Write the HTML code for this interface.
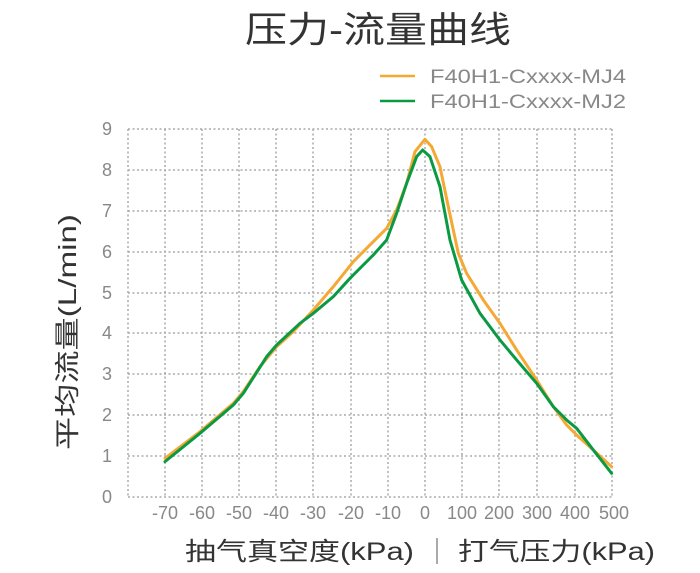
<!DOCTYPE html>
<html><head><meta charset="utf-8"><style>
html,body{margin:0;padding:0;background:#fff;}
svg{display:block;font-family:"Liberation Sans","Noto Sans CJK SC",sans-serif;}
</style></head><body>
<svg width="700" height="573" viewBox="0 0 700 573" xmlns="http://www.w3.org/2000/svg">
<text x="378" y="42" font-size="36" fill="#333" text-anchor="middle" textLength="266" lengthAdjust="spacingAndGlyphs">压力-流量曲线</text>
<line x1="380" y1="76" x2="415" y2="76" stroke="#f5a833" stroke-width="2.5"/>
<line x1="380" y1="101" x2="415" y2="101" stroke="#0a9a44" stroke-width="2.5"/>
<text x="430" y="83" font-size="19" fill="#888" textLength="196" lengthAdjust="spacingAndGlyphs">F40H1-Cxxxx-MJ4</text>
<text x="430" y="108" font-size="19" fill="#888" textLength="196" lengthAdjust="spacingAndGlyphs">F40H1-Cxxxx-MJ2</text>
<g stroke="#aaa" stroke-width="1.5" stroke-dasharray="2,2.5" fill="none">
<line x1="128" y1="129" x2="612" y2="129"/><line x1="128" y1="170" x2="612" y2="170"/>
<line x1="128" y1="211" x2="612" y2="211"/><line x1="128" y1="252" x2="612" y2="252"/>
<line x1="128" y1="293" x2="612" y2="293"/><line x1="128" y1="333" x2="612" y2="333"/>
<line x1="128" y1="374" x2="612" y2="374"/><line x1="128" y1="415" x2="612" y2="415"/>
<line x1="128" y1="456" x2="612" y2="456"/><line x1="128" y1="497" x2="612" y2="497"/>
<line x1="128" y1="129" x2="128" y2="497"/><line x1="165" y1="129" x2="165" y2="497"/>
<line x1="202" y1="129" x2="202" y2="497"/><line x1="239" y1="129" x2="239" y2="497"/>
<line x1="276" y1="129" x2="276" y2="497"/><line x1="313" y1="129" x2="313" y2="497"/>
<line x1="351" y1="129" x2="351" y2="497"/><line x1="388" y1="129" x2="388" y2="497"/>
<line x1="425" y1="129" x2="425" y2="497"/><line x1="462" y1="129" x2="462" y2="497"/>
<line x1="499" y1="129" x2="499" y2="497"/><line x1="537" y1="129" x2="537" y2="497"/>
<line x1="575" y1="129" x2="575" y2="497"/><line x1="612" y1="129" x2="612" y2="497"/>
</g>
<g font-size="18" fill="#888" text-anchor="end">
<text x="112" y="135">9</text><text x="112" y="176">8</text><text x="112" y="217">7</text>
<text x="112" y="258">6</text><text x="112" y="299">5</text><text x="112" y="339">4</text>
<text x="112" y="380">3</text><text x="112" y="421">2</text><text x="112" y="462">1</text>
<text x="112" y="503">0</text>
</g>
<g font-size="18" fill="#888" text-anchor="middle">
<text x="165" y="519">-70</text><text x="202" y="519">-60</text><text x="239" y="519">-50</text>
<text x="276" y="519">-40</text><text x="313" y="519">-30</text><text x="351" y="519">-20</text>
<text x="388" y="519">-10</text><text x="425" y="519">0</text><text x="462" y="519">100</text>
<text x="499" y="519">200</text><text x="537" y="519">300</text><text x="575" y="519">400</text>
<text x="614" y="519">500</text>
</g>
<g transform="translate(100,110) scale(0.3333)" fill="none" stroke-width="9" stroke-linejoin="round" stroke-linecap="round">
<polyline stroke="#f5a833" points="195,1045 300,965 400,880 430,845 480,770 530,710 580,665 640,600 700,530 760,455 810,405 860,355 890,300 920,220 945,125 975,88 995,110 1020,170 1045,290 1075,430 1100,490 1150,570 1200,640 1250,720 1310,810 1360,890 1400,945 1430,975 1480,1020 1535,1070"/>
<polyline stroke="#0a9a44" points="195,1055 300,970 400,885 430,850 500,740 530,705 600,640 640,610 700,560 750,505 820,435 860,390 890,310 920,220 950,140 968,120 990,140 1020,230 1050,390 1085,510 1140,610 1200,690 1250,750 1310,820 1360,890 1400,930 1430,955 1480,1020 1535,1090"/>
</g>
<text transform="translate(76,332) rotate(-90)" font-size="25" fill="#333" text-anchor="middle" textLength="236" lengthAdjust="spacingAndGlyphs">平均流量(L/min)</text>
<text x="185" y="560" font-size="25" fill="#333" textLength="229" lengthAdjust="spacingAndGlyphs">抽气真空度(kPa)</text>
<line x1="437" y1="538" x2="437" y2="564" stroke="#555" stroke-width="1"/>
<text x="458" y="560" font-size="25" fill="#333" textLength="197" lengthAdjust="spacingAndGlyphs">打气压力(kPa)</text>
</svg>
</body></html>
